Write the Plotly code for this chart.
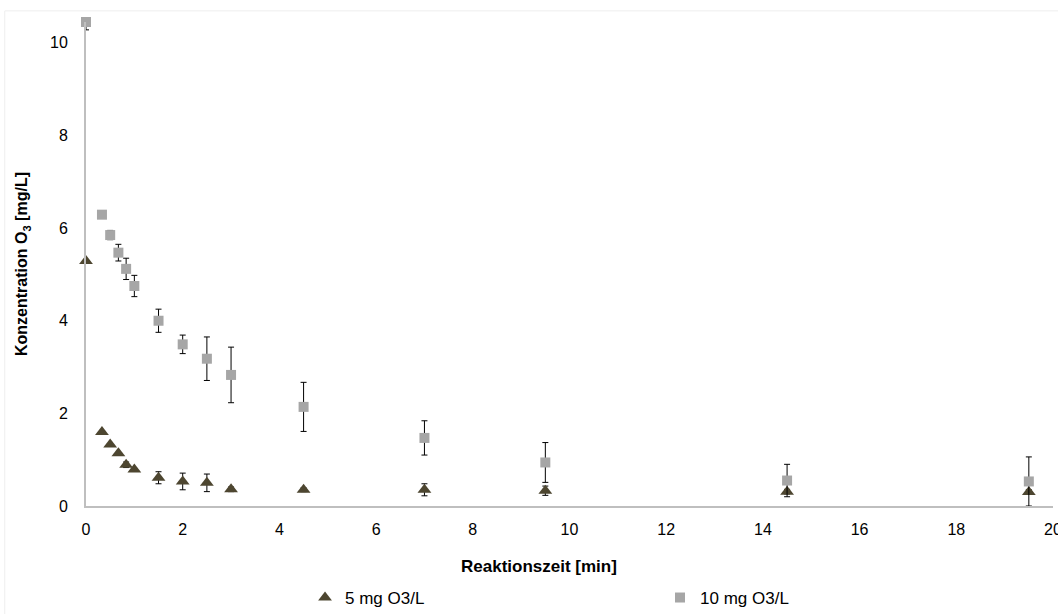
import plotly.graph_objects as go

# Reaction time [min]
time_5 = [0, 0.33, 0.5, 0.67, 0.83, 1, 1.5, 2, 2.5, 3, 4.5, 7, 9.5, 14.5, 19.5]
conc_5 = [5.29, 1.60, 1.33, 1.14, 0.89, 0.79, 0.61, 0.53, 0.50, 0.36, 0.35, 0.35, 0.33, 0.31, 0.30]
err_5 = [0.0, 0.0, 0.0, 0.0, 0.06, 0.0, 0.13, 0.18, 0.19, 0.05, 0.04, 0.13, 0.10, 0.05, 0.05]

time_10 = [0, 0.33, 0.5, 0.67, 0.83, 1, 1.5, 2, 2.5, 3, 4.5, 7, 9.5, 14.5, 19.5]
conc_10 = [10.45, 6.29, 5.85, 5.47, 5.12, 4.75, 4.0, 3.49, 3.18, 2.83, 2.14, 1.47, 0.94, 0.55, 0.53]
err_10 = [0.17, 0.0, 0.1, 0.18, 0.23, 0.23, 0.25, 0.2, 0.47, 0.6, 0.53, 0.37, 0.43, 0.35, 0.53]

name_5 = "5 mg O3/L"
name_10 = "10 mg O3/L"

x_ticks = [0, 2, 4, 6, 8, 10, 12, 14, 16, 18, 20]
y_ticks = [0, 2, 4, 6, 8, 10]

x_title = "Reaktionszeit [min]"
y_title = "Konzentration O<sub>3</sub> [mg/L]"

FONT = "Liberation Sans, Arial, sans-serif"
err_style = dict(type="data", visible=True, color="#000000", thickness=1, width=3)

fig = go.Figure()
fig.add_trace(go.Scatter(
    x=time_5, y=conc_5, mode="markers", name=name_5,
    marker=dict(symbol="triangle-up", size=12, color="#4d4630"),
    error_y=dict(array=err_5, **err_style),
    cliponaxis=False,
))
fig.add_trace(go.Scatter(
    x=time_10, y=conc_10, mode="markers", name=name_10,
    marker=dict(symbol="square", size=10, color="#a6a6a6"),
    error_y=dict(array=err_10, **err_style),
    cliponaxis=False,
))

fig.update_layout(
    width=1058, height=614,
    paper_bgcolor="white", plot_bgcolor="white",
    margin=dict(l=86, r=5, t=22, b=108, autoexpand=False),
    font=dict(family=FONT, size=16, color="#000000"),
    showlegend=True,
    legend=dict(
        orientation="h", x=0.2265, xanchor="left", y=-0.19, yanchor="middle",
        entrywidth=310, entrywidthmode="pixels",
        font=dict(family=FONT, size=17, color="#000000"),
        itemwidth=30, tracegroupgap=0,
    ),
    shapes=[dict(type="rect", xref="paper", yref="paper",
                 x0=-0.084, x1=1.1, y0=-0.3, y1=1.023,
                 line=dict(color="#eeeeee", width=1), layer="below")],
    annotations=[dict(
        text="<b>" + x_title + "</b>", xref="paper", yref="paper",
        x=0.468, y=-0.124, xanchor="center", yanchor="middle",
        showarrow=False, font=dict(family=FONT, size=17, color="#000000"),
    )],
)
fig.update_xaxes(
    range=[0, 20], tickvals=x_ticks, ticktext=[str(v) for v in x_ticks],
    showgrid=False, zeroline=False, showline=True, linecolor="#bfbfbf", linewidth=2,
    ticks="", tickfont=dict(size=16), ticklabelstandoff=8, automargin=False,
    ticklabeloverflow="allow",
)
fig.update_yaxes(
    range=[0, 10.45], tickvals=y_ticks, ticktext=[str(v) for v in y_ticks],
    showgrid=False, zeroline=False, showline=True, linecolor="#bfbfbf", linewidth=2,
    ticks="", tickfont=dict(size=16), ticklabelstandoff=13, automargin=False,
    title=dict(text="<b>" + y_title + "</b>", font=dict(size=16), standoff=18),
)

fig.write_html(
    "out.html",
    config={"displayModeBar": False},
    post_script="document.body.style.margin='0';document.body.style.overflow='hidden';",
)
